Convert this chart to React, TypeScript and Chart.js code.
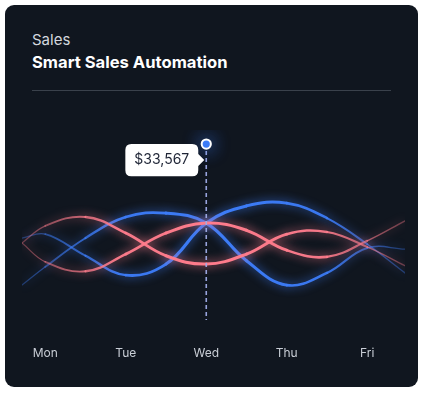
import { useEffect, useRef } from 'react';
import { Chart, registerables, Tooltip } from 'chart.js';

Chart.register(...registerables);

// ---- data ----
const dayLabels = ['Mon', 'Tue', 'Wed', 'Thu', 'Fri'];
const xPoints = [-0.29, 0, 0.5, 1, 1.5, 2, 2.5, 3, 3.5, 4, 4.47];
const blueRise = [8100, 11400, 16600, 20400, 21100, 19300, 12500, 8100, 10300, 14800, 14600];
const blueWave = [16600, 17300, 13400, 9900, 11900, 19300, 22400, 22900, 20200, 15500, 10300];
const pinkPeak = [15700, 18800, 20400, 17500, 13400, 11900, 13700, 17300, 17700, 15000, 11600];
const pinkDip = [15700, 12300, 10600, 13700, 17500, 19300, 18000, 14400, 13200, 16100, 19700];
const highlightDay = 2;
const highlightValue = 33567;
const guideBottomValue = 1800;
const yMax = 36100;

const BLUE = [60, 124, 248];
const PINK = [255, 124, 140];

(Tooltip as any).positioners.belowPoint = function (items: any[]) {
  if (!items.length) return false;
  const el = items[0].element;
  return { x: el.x, y: el.y + 16 };
};

const gradCache: Record<string, any> = {};
function fadeGradient(chart: any, rgb: number[]) {
  const area = chart.chartArea;
  const c = `${rgb[0]},${rgb[1]},${rgb[2]}`;
  if (!area) return `rgb(${c})`;
  const key = c + ':' + area.left + ':' + area.right;
  if (gradCache[key]) return gradCache[key];
  const g = chart.ctx.createLinearGradient(area.left, 0, area.right, 0);
  g.addColorStop(0, `rgba(${c},0.35)`);
  g.addColorStop(0.25, `rgba(${c},0.95)`);
  g.addColorStop(0.5, `rgba(${c},1)`);
  g.addColorStop(0.78, `rgba(${c},0.95)`);
  g.addColorStop(1, `rgba(${c},0.35)`);
  gradCache[key] = g;
  return g;
}

function taper(ctx: any) {
  const area = ctx.chart.chartArea;
  if (!area) return 2.5;
  const mid = (ctx.p0.x + ctx.p1.x) / 2;
  const t = Math.min(1, Math.max(0, (mid - area.left) / (area.right - area.left)));
  return 0.9 + 2.2 * Math.pow(Math.sin(Math.PI * t), 0.8);
}

function waveDataset(label: string, values: number[], rgb: number[]) {
  return {
    type: 'line',
    label,
    data: values.map((v, i) => ({ x: xPoints[i], y: v })),
    borderColor: (ctx: any) => fadeGradient(ctx.chart, rgb),
    borderWidth: 2.5,
    tension: 0.4,
    pointRadius: 0,
    borderCapStyle: 'round',
    borderJoinStyle: 'round',
    fill: false,
    segment: { borderWidth: taper },
    glowColor: `rgba(${rgb[0]},${rgb[1]},${rgb[2]},0.9)`,
    glowBlur: 10,
  };
}

const glowPlugin = {
  id: 'glow',
  beforeDatasetDraw(chart: any, args: any) {
    const ds = chart.data.datasets[args.index];
    if (!ds.glowColor) return;
    chart.ctx.save();
    chart.ctx.shadowColor = ds.glowColor;
    chart.ctx.shadowBlur = ds.glowBlur;
  },
  afterDatasetDraw(chart: any, args: any) {
    const ds = chart.data.datasets[args.index];
    if (!ds.glowColor) return;
    chart.ctx.restore();
  },
};

export default function App() {
  const canvasRef = useRef<HTMLCanvasElement | null>(null);

  useEffect(() => {
    if (!canvasRef.current) return;
    Chart.defaults.font.family = 'Inter';
    const chart = new Chart(canvasRef.current, {
      type: 'line',
      data: {
        datasets: [
          {
            type: 'line',
            label: 'Sales',
            data: [{ x: highlightDay, y: highlightValue }],
            showLine: false,
            pointRadius: 4.6,
            pointBackgroundColor: 'rgb(60,124,248)',
            pointBorderColor: '#ffffff',
            pointBorderWidth: 2,
            glowColor: 'rgba(60,124,248,0.95)',
            glowBlur: 18,
          } as any,
          {
            type: 'line',
            label: 'guide',
            data: [
              { x: highlightDay, y: highlightValue },
              { x: highlightDay, y: guideBottomValue },
            ],
            borderColor: 'rgba(160,172,232,0.95)',
            borderWidth: 1.6,
            borderDash: [4, 3],
            pointRadius: 0,
            tension: 0,
          } as any,
          waveDataset('Pink peak', pinkPeak, PINK) as any,
          waveDataset('Pink dip', pinkDip, PINK) as any,
          waveDataset('Blue rise', blueRise, BLUE) as any,
          waveDataset('Blue wave', blueWave, BLUE) as any,
        ],
      },
      options: {
        responsive: false,
        animation: false,
        events: [],
        layout: { padding: { left: 22, right: 18, top: 130, bottom: 0 } },
        scales: {
          x: {
            type: 'linear',
            min: xPoints[0],
            max: xPoints[xPoints.length - 1],
            afterBuildTicks: (axis: any) => {
              axis.ticks = dayLabels.map((_, i) => ({ value: i }));
            },
            afterFit: (axis: any) => {
              axis.height = 63;
            },
            grid: { display: false, drawTicks: false },
            border: { display: false },
            ticks: {
              callback: (v: any) => dayLabels[v] ?? '',
              color: '#c9ced6',
              font: { size: 12, family: 'Inter' },
              padding: 16,
              maxRotation: 0,
              autoSkip: false,
            },
          },
          y: { display: false, min: 0, max: yMax },
        },
        plugins: {
          legend: { display: false },
          tooltip: {
            enabled: true,
            position: 'belowPoint' as any,
            xAlign: 'right',
            yAlign: 'center',
            backgroundColor: '#ffffff',
            bodyColor: '#1f2536',
            bodyFont: { family: 'Inter', size: 14, weight: 'normal', lineHeight: 1.3 },
            padding: { top: 7, bottom: 7, left: 9, right: 9 },
            cornerRadius: 6,
            caretSize: 6,
            caretPadding: 2,
            displayColors: false,
            callbacks: {
              title: () => [],
              label: (item: any) => '$' + Number(item.parsed.y).toLocaleString('en-US'),
            },
          },
        },
      } as any,
      plugins: [glowPlugin],
    });
    chart.tooltip?.setActiveElements([{ datasetIndex: 0, index: 0 }], { x: 0, y: 0 });
    chart.update();
    return () => chart.destroy();
  }, []);

  return (
    <div style={{ position: 'absolute', left: 0, top: 0, width: 423, height: 393, background: '#ffffff', overflow: 'hidden' }}>
      <div style={{ position: 'absolute', left: 5, top: 5, width: 413, height: 382, borderRadius: 9, background: '#10161f' }} />
      <div style={{ position: 'absolute', left: 32, top: 32, fontFamily: 'Inter', fontSize: 15, lineHeight: '15px', fontWeight: 400, color: '#d4d8de', whiteSpace: 'nowrap' }}>
        Sales
      </div>
      <div style={{ position: 'absolute', left: 32, top: 53.8, fontFamily: 'Inter', fontSize: 16.6, lineHeight: '17px', fontWeight: 700, color: '#ffffff', whiteSpace: 'nowrap' }}>
        Smart Sales Automation
      </div>
      <div style={{ position: 'absolute', left: 32, top: 90, width: 359, height: 1, background: '#3a414b' }} />
      <canvas ref={canvasRef} width={423} height={393} style={{ position: 'absolute', left: 0, top: 0, width: 423, height: 393 }} />
    </div>
  );
}
